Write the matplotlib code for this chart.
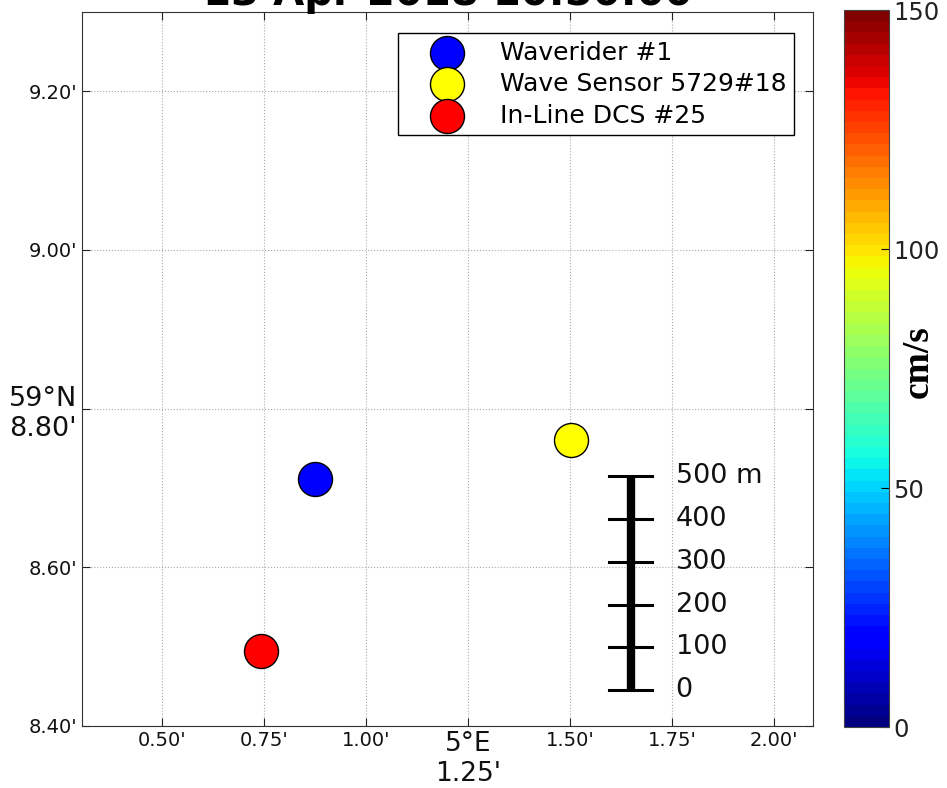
import numpy as np
import matplotlib
matplotlib.use("Agg")
import matplotlib.pyplot as plt
from matplotlib.colors import Normalize
from matplotlib.cm import ScalarMappable

# buoy positions, in arc-minutes past 5°E / 59°N
names = ["Waverider #1", "Wave Sensor 5729#18", "In-Line DCS #25"]
lon_min = [0.875, 1.503, 0.743]
lat_min = [8.711, 8.760, 8.495]
colors = ["blue", "yellow", "red"]

xticks = [0.50, 0.75, 1.00, 1.25, 1.50, 1.75, 2.00]
yticks = [8.40, 8.60, 8.80, 9.00, 9.20]

# scale bar (metres)
scale_m = [0, 100, 200, 300, 400, 500]
scale_x = 1.649
scale_y0 = 8.445

title = "13 Apr 2018 10:50:00"

fig = plt.figure(figsize=(9.47, 7.88), dpi=100)
ax = fig.add_axes([0.0866, 0.0787, 0.7719, 0.9061])

for x, y, c, n in zip(lon_min, lat_min, colors, names):
    ax.scatter(x, y, s=600, c=c, edgecolors="black", linewidths=1.0, zorder=3, label=n)

# scale bar: 1 arc-minute latitude = 1852 m
ys = [scale_y0 + m / 1852.0 for m in scale_m]
ax.plot([scale_x, scale_x], [ys[0], ys[-1]], color="black", lw=6, solid_capstyle="butt", zorder=4)
for m, y in zip(scale_m, ys):
    ax.plot([scale_x - 0.052, scale_x + 0.052], [y, y], color="black", lw=2.2, zorder=4)
    lab = f"{m} m" if m == scale_m[-1] else f"{m}"
    ax.text(scale_x + 0.11, y, lab, fontsize=19.5, va="center", ha="left", color="#111111", zorder=4)

ax.set_xlim(0.304, 2.096)
ax.set_ylim(8.40, 9.30)
ax.set_xticks(xticks)
ax.set_yticks(yticks)
ax.set_xticklabels([f"{v:.2f}'" if v != 1.25 else "5°E\n1.25'" for v in xticks])
ax.set_yticklabels([f"{v:.2f}'" if v != 8.80 else "59°N\n8.80'" for v in yticks])
for lbl, v in zip(ax.get_xticklabels(), xticks):
    lbl.set_fontsize(19 if v == 1.25 else 14)
for lbl, v in zip(ax.get_yticklabels(), yticks):
    lbl.set_fontsize(19.5 if v == 8.80 else 14)
ax.tick_params(direction="in", top=True, right=True, length=6, colors="#222222", labelcolor="#111111")
ax.grid(True, linestyle=":", color="#aaaaaa", lw=0.8)
for sp in ax.spines.values():
    sp.set_color("#333333")

leg = ax.legend(loc="upper right", bbox_to_anchor=(0.9735, 0.9705), fontsize=18, fancybox=False,
                edgecolor="black", framealpha=1, scatterpoints=1, handlelength=3.3,
                handletextpad=0.45, labelspacing=0.3, borderpad=0.3, borderaxespad=0)
leg.get_frame().set_linewidth(1.0)

fig.text(0.4725, 1 - 5 / 788, title, ha="center", va="baseline", fontsize=29, fontweight="bold")

cax = fig.add_axes([0.891, 0.0774, 0.0475, 0.9099])
sm = ScalarMappable(norm=Normalize(0, 150), cmap=plt.get_cmap("jet", 64))
cb = fig.colorbar(sm, cax=cax, ticks=[0, 50, 100, 150])
cb.ax.tick_params(labelsize=17.5, labelcolor="#222222", direction="in", length=6)
cb.outline.set_edgecolor("#444444")
cax.text(1.66, 0.51, "cm/s", transform=cax.transAxes, rotation=90, ha="center", va="center",
         fontsize=27, fontweight="bold", family="Liberation Serif")

fig.savefig("out.png", dpi=100)
